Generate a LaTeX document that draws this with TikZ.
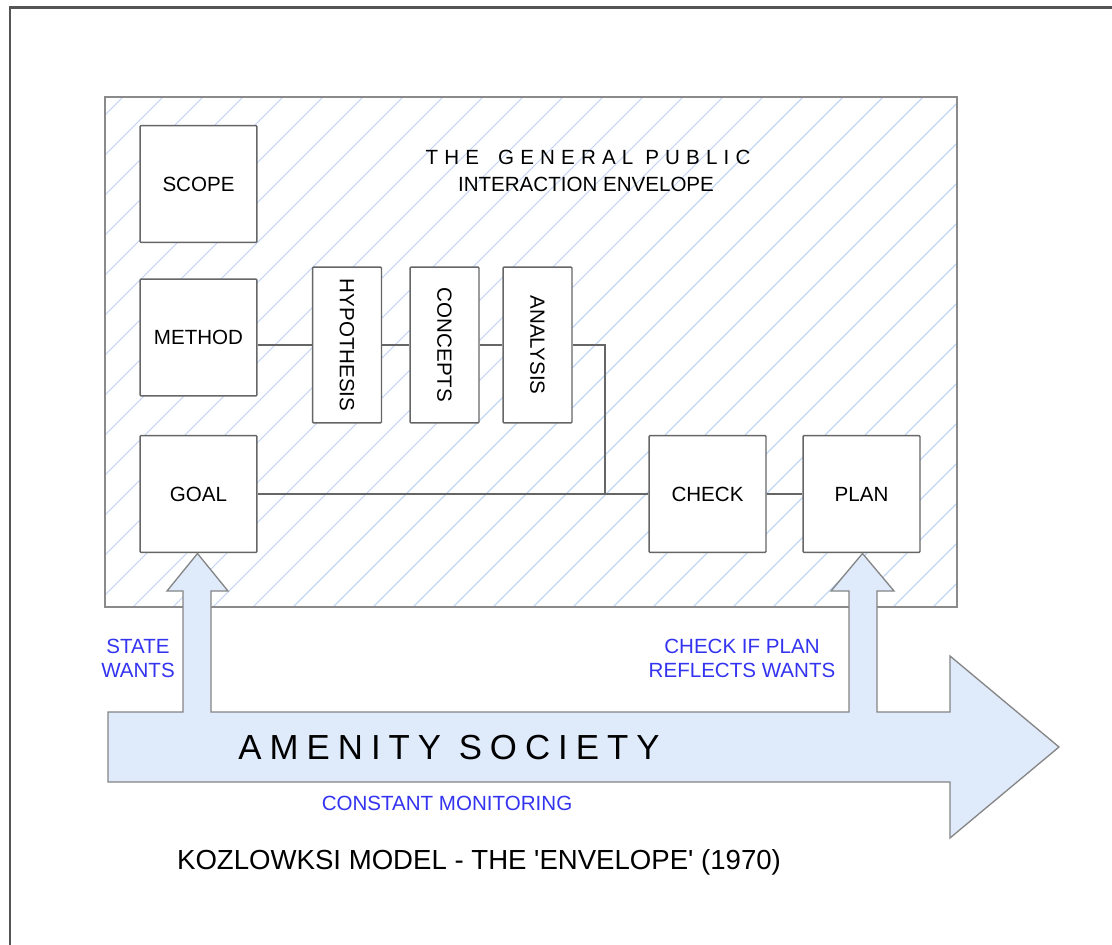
\documentclass[tikz,border=0pt]{standalone}
\usepackage{fontspec}
\setmainfont{Liberation Sans}
\definecolor{framegray}{HTML}{555555}
\definecolor{boxgray}{HTML}{666666}
\definecolor{envgray}{HTML}{8A8A8A}
\definecolor{hatchblue}{HTML}{BCD3F5}
\definecolor{arrowfill}{HTML}{DFEAFB}
\definecolor{arrowline}{HTML}{858585}
\definecolor{labelblue}{HTML}{3434F0}
\newcommand{\boxfont}{\fontsize{11.7}{13.6}\selectfont}
\begin{document}
\begin{tikzpicture}[x=0.02cm,y=-0.02cm,
  stepbox/.style={draw=boxgray, line width=0.85pt, fill=white, rounded corners=0.6pt,
    inner sep=0pt, minimum width=2.34cm, minimum height=2.34cm, font=\boxfont},
  vbox/.style={stepbox, minimum width=1.38cm, minimum height=3.12cm},
  link/.style={draw=boxgray, line width=0.85pt},
  bluetext/.style={text=labelblue, font=\boxfont, align=center, inner sep=0pt},
  plaintext/.style={font=\boxfont, inner sep=0pt, align=center}]

\useasboundingbox (0,0) rectangle (1112,945);
\fill[white] (0,0) rectangle (1112,945);

% outer frame, open to the right and bottom edges
\draw[framegray, line width=1.7pt] (10,945) -- (10,8) -- (1112,8);

% the interaction envelope with its diagonal hatching
\begin{scope}
  \clip (105,97) rectangle (957,607);
  \foreach \k in {-600,-560,...,1000}
    \draw[hatchblue, line width=0.6pt] (\k,620) -- (\k+540,80);
\end{scope}
\draw[envgray, line width=0.85pt] (105,97) rectangle (957,607);

\node[plaintext] (pubtitle) at (588,157)
  {\addfontfeature{LetterSpace=30}THE\hspace{0.35em} GENERAL PUBLIC};
\node[plaintext] (envtitle) at (586,184) {INTERACTION ENVELOPE};

% process boxes
\node[stepbox] (scope)  at (198.5,184)   {SCOPE};
\node[stepbox] (method) at (198.5,337.5) {METHOD};
\node[stepbox] (goal)   at (198.5,494)   {GOAL};
\node[vbox, label={[rotate=-90,font=\boxfont]center:HYPOTHESIS}] (hyp) at (347,345) {};
\node[vbox, label={[rotate=-90,font=\boxfont]center:CONCEPTS}] (conc) at (444.5,345) {};
\node[vbox, label={[rotate=-90,font=\boxfont]center:ANALYSIS}] (anal) at (537.5,345) {};
\node[stepbox] (check)  at (707.5,494)   {CHECK};
\node[stepbox] (plan)   at (861.5,494)   {PLAN};

% connectors
\coordinate (jn) at (605,494);
\draw[link] (hyp.west -| method.east) -- (hyp.west);
\draw[link] (hyp.east) -- (conc.west);
\draw[link] (conc.east) -- (anal.west);
\draw[link] (anal.east) -| (jn);
\draw[link] (goal.east) -- (check.west);
\draw[link] (check.east) -- (plan.west);

% amenity society arrow with its two branches
\draw[fill=arrowfill, draw=arrowline, line width=0.75pt, line join=miter]
  (108,712) -- (183,712) -- (183,591) -- (167,591) -- (197.5,553.5) -- (228,591)
  -- (211,591) -- (211,712) -- (849,712) -- (849,591) -- (831,591)
  -- (862.5,553.5) -- (894,591) -- (877,591) -- (877,712) -- (950,712)
  -- (950,656) -- (1059,747) -- (950,838) -- (950,782) -- (108,782) -- cycle;

\node[plaintext, font=\fontsize{19.8}{22}\selectfont] (amenity) at (449,748)
  {\addfontfeature{LetterSpace=23}AMENITY SOCIETY};

% blue annotations
\node[bluetext] (wants) at (138,658) {STATE\\WANTS};
\node[bluetext] (reflect) at (742,658) {CHECK IF PLAN\\REFLECTS WANTS};
\node[bluetext] (monitor) at (447,803) {CONSTANT MONITORING};

% caption
\node[plaintext, font=\fontsize{15.7}{18}\selectfont] (caption) at (479,862)
  {KOZLOWKSI MODEL - THE \textquotesingle ENVELOPE\textquotesingle\ (1970)};
\end{tikzpicture}
\end{document}
